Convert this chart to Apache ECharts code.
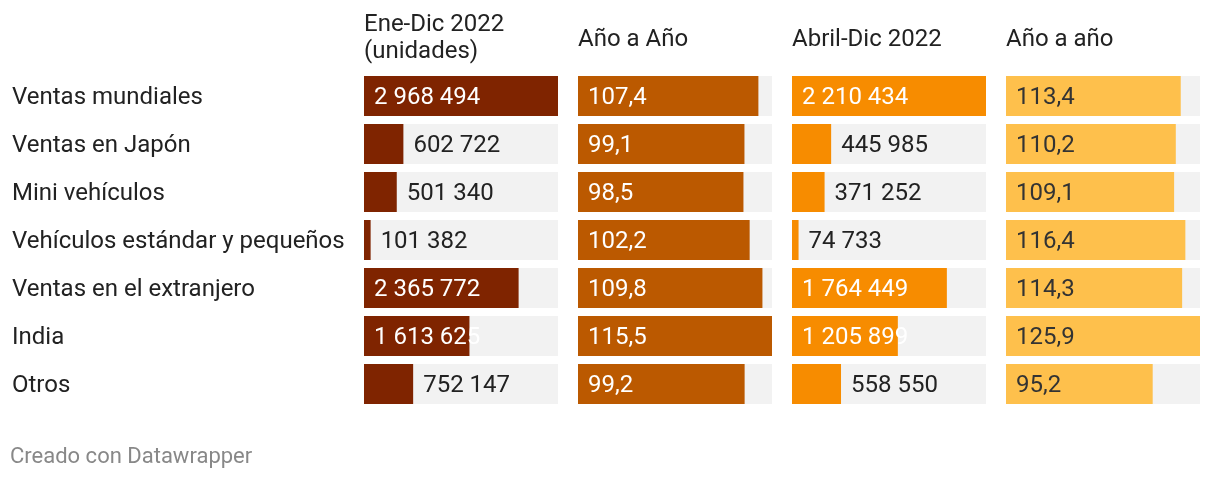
<!DOCTYPE html>
<html><head><meta charset="utf-8">
<script src="https://cdn.jsdelivr.net/npm/echarts@6/dist/echarts.min.js"></script>
<style>html,body{margin:0;padding:0;background:#fff}#c{width:1220px;height:480px}</style>
</head><body><div id="c"></div>
<script>
const categories = ["Ventas mundiales","Ventas en Japón","Mini vehículos","Vehículos estándar y pequeños","Ventas en el extranjero","India","Otros"];
const eneDic2022 = [2968494, 602722, 501340, 101382, 2365772, 1613625, 752147];
const anoAnoEneDic = [107.4, 99.1, 98.5, 102.2, 109.8, 115.5, 99.2];
const abrilDic2022 = [2210434, 445985, 371252, 74733, 1764449, 1205899, 558550];
const anoAnoAbrilDic = [113.4, 110.2, 109.1, 116.4, 114.3, 125.9, 95.2];
const headers = ["Ene-Dic 2022\n(unidades)", "Año a Año", "Abril-Dic 2022", "Año a año"];

const cols = [
  {data: eneDic2022, color: '#7f2400', inColor: '#ffffff', fmt: 'int'},
  {data: anoAnoEneDic, color: '#bb5900', inColor: '#ffffff', fmt: 'dec'},
  {data: abrilDic2022, color: '#f78c00', inColor: '#ffffff', fmt: 'int'},
  {data: anoAnoAbrilDic, color: '#fec04c', inColor: '#333333', fmt: 'dec'}
];
const lefts = [364, 578, 792, 1006];
const W = 194;
function fmt(v, t){
  if (t === 'int') return String(v).replace(/\B(?=(\d{3})+(?!\d))/g, ' ');
  return v.toFixed(1).replace('.', ',');
}
const font = 'Roboto, "Noto Sans", sans-serif';
const grids = [], xAxes = [], yAxes = [], series = [];
cols.forEach((c, i) => {
  const max = Math.max(...c.data);
  grids.push({left: lefts[i], top: 72, width: W, height: 336});
  xAxes.push({type: 'value', gridIndex: i, min: 0, max: max, show: false});
  yAxes.push({type: 'category', gridIndex: i, inverse: true, data: categories,
    axisLine: {show: false}, axisTick: {show: false}, splitLine: {show: false},
    axisLabel: i === 0 ? {show: true, align: 'left', margin: 352,
      formatter: (v) => '{a|' + v + '}',
      rich: {a: {fontSize: 24, color: '#222', fontFamily: font, padding: [4, 0, 0, 0]}}} : {show: false}});
  series.push({type: 'bar', xAxisIndex: i, yAxisIndex: i, barWidth: 40, silent: true,
    showBackground: true, backgroundStyle: {color: '#f2f2f2'},
    itemStyle: {color: c.color},
    data: c.data.map(v => {
      const inside = v / max > 0.4;
      return {value: v, label: {show: true, position: inside ? 'insideLeft' : 'right', distance: 10,
        offset: [0, 2],
        color: inside ? c.inColor : '#222222', fontSize: 24, fontFamily: font,
        formatter: () => fmt(v, c.fmt)}};
    })
  });
});
const titles = headers.map((h, i) => ({
  text: h, left: lefts[i], top: h.indexOf('\n') >= 0 ? 11 : 26, padding: 0,
  textStyle: {fontSize: 24, fontWeight: 'normal', color: '#222', fontFamily: font, lineHeight: 27}
}));
titles.push({text: 'Creado con Datawrapper', left: 10, top: 446, padding: 0,
  textStyle: {fontSize: 22, fontWeight: 'normal', color: '#888', fontFamily: font}});
const chart = echarts.init(document.getElementById('c'));
chart.setOption({animation: false, title: titles, grid: grids, xAxis: xAxes, yAxis: yAxes, series: series});
</script></body></html>
